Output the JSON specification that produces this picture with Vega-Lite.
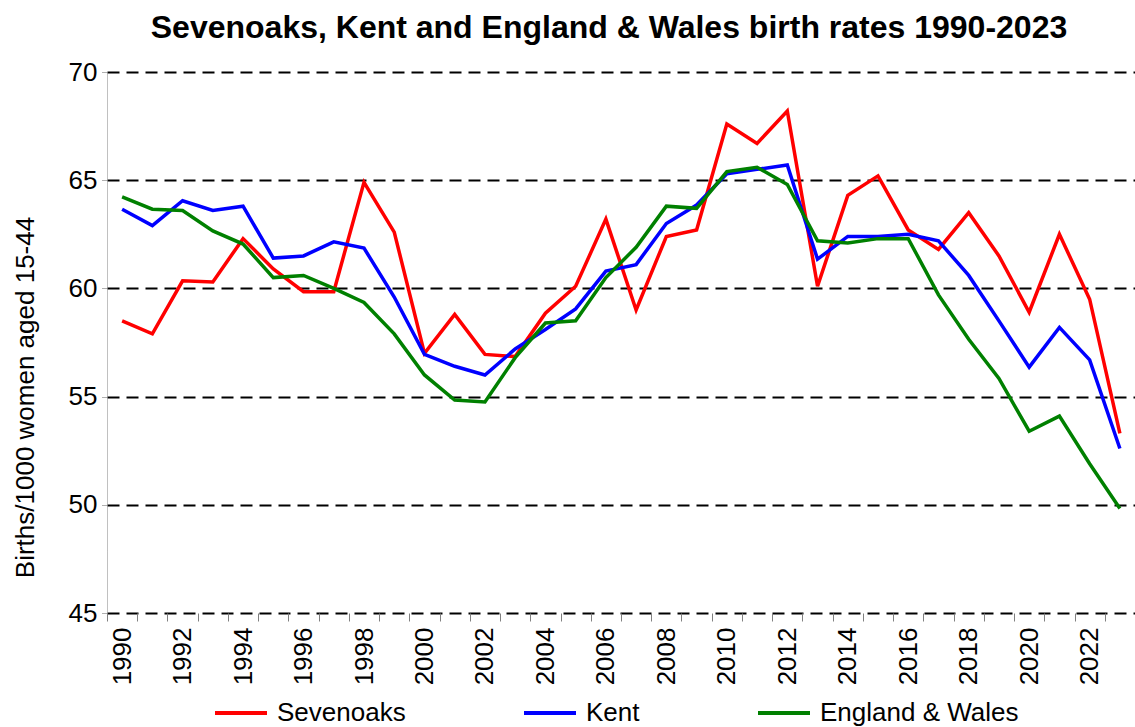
{
  "$schema": "https://vega.github.io/schema/vega-lite/v6.json",
  "width": 1028,
  "height": 541,
  "autosize": {"type": "none"},
  "padding": {"left": 107, "top": 72, "right": 0, "bottom": 114},
  "background": "white",
  "title": {"text": "Sevenoaks, Kent and England & Wales birth rates 1990-2023", "font": "Arial", "fontSize": 32, "fontWeight": "bold", "color": "black", "anchor": "middle", "dx": -12, "offset": 14},
  "datasets": {
    "rates": [
      {"year": 1990, "series": "Sevenoaks", "value": 58.5}, {"year": 1991, "series": "Sevenoaks", "value": 57.9}, {"year": 1992, "series": "Sevenoaks", "value": 60.35}, {"year": 1993, "series": "Sevenoaks", "value": 60.3}, {"year": 1994, "series": "Sevenoaks", "value": 62.3}, {"year": 1995, "series": "Sevenoaks", "value": 60.9}, {"year": 1996, "series": "Sevenoaks", "value": 59.85}, {"year": 1997, "series": "Sevenoaks", "value": 59.85}, {"year": 1998, "series": "Sevenoaks", "value": 64.9}, {"year": 1999, "series": "Sevenoaks", "value": 62.6}, {"year": 2000, "series": "Sevenoaks", "value": 57.0}, {"year": 2001, "series": "Sevenoaks", "value": 58.8}, {"year": 2002, "series": "Sevenoaks", "value": 56.95}, {"year": 2003, "series": "Sevenoaks", "value": 56.85}, {"year": 2004, "series": "Sevenoaks", "value": 58.85}, {"year": 2005, "series": "Sevenoaks", "value": 60.1}, {"year": 2006, "series": "Sevenoaks", "value": 63.2}, {"year": 2007, "series": "Sevenoaks", "value": 59.0}, {"year": 2008, "series": "Sevenoaks", "value": 62.4}, {"year": 2009, "series": "Sevenoaks", "value": 62.7}, {"year": 2010, "series": "Sevenoaks", "value": 67.6}, {"year": 2011, "series": "Sevenoaks", "value": 66.7}, {"year": 2012, "series": "Sevenoaks", "value": 68.2}, {"year": 2013, "series": "Sevenoaks", "value": 60.1}, {"year": 2014, "series": "Sevenoaks", "value": 64.3}, {"year": 2015, "series": "Sevenoaks", "value": 65.2}, {"year": 2016, "series": "Sevenoaks", "value": 62.7}, {"year": 2017, "series": "Sevenoaks", "value": 61.8}, {"year": 2018, "series": "Sevenoaks", "value": 63.5}, {"year": 2019, "series": "Sevenoaks", "value": 61.5}, {"year": 2020, "series": "Sevenoaks", "value": 58.9}, {"year": 2021, "series": "Sevenoaks", "value": 62.5}, {"year": 2022, "series": "Sevenoaks", "value": 59.5}, {"year": 2023, "series": "Sevenoaks", "value": 53.3},
      {"year": 1990, "series": "Kent", "value": 63.66}, {"year": 1991, "series": "Kent", "value": 62.9}, {"year": 1992, "series": "Kent", "value": 64.05}, {"year": 1993, "series": "Kent", "value": 63.6}, {"year": 1994, "series": "Kent", "value": 63.8}, {"year": 1995, "series": "Kent", "value": 61.4}, {"year": 1996, "series": "Kent", "value": 61.5}, {"year": 1997, "series": "Kent", "value": 62.15}, {"year": 1998, "series": "Kent", "value": 61.86}, {"year": 1999, "series": "Kent", "value": 59.6}, {"year": 2000, "series": "Kent", "value": 56.95}, {"year": 2001, "series": "Kent", "value": 56.4}, {"year": 2002, "series": "Kent", "value": 56.0}, {"year": 2003, "series": "Kent", "value": 57.2}, {"year": 2004, "series": "Kent", "value": 58.1}, {"year": 2005, "series": "Kent", "value": 59.05}, {"year": 2006, "series": "Kent", "value": 60.8}, {"year": 2007, "series": "Kent", "value": 61.1}, {"year": 2008, "series": "Kent", "value": 63.0}, {"year": 2009, "series": "Kent", "value": 63.85}, {"year": 2010, "series": "Kent", "value": 65.3}, {"year": 2011, "series": "Kent", "value": 65.5}, {"year": 2012, "series": "Kent", "value": 65.7}, {"year": 2013, "series": "Kent", "value": 61.35}, {"year": 2014, "series": "Kent", "value": 62.4}, {"year": 2015, "series": "Kent", "value": 62.4}, {"year": 2016, "series": "Kent", "value": 62.5}, {"year": 2017, "series": "Kent", "value": 62.2}, {"year": 2018, "series": "Kent", "value": 60.6}, {"year": 2019, "series": "Kent", "value": 58.5}, {"year": 2020, "series": "Kent", "value": 56.36}, {"year": 2021, "series": "Kent", "value": 58.2}, {"year": 2022, "series": "Kent", "value": 56.7}, {"year": 2023, "series": "Kent", "value": 52.6},
      {"year": 1990, "series": "England & Wales", "value": 64.23}, {"year": 1991, "series": "England & Wales", "value": 63.66}, {"year": 1992, "series": "England & Wales", "value": 63.6}, {"year": 1993, "series": "England & Wales", "value": 62.66}, {"year": 1994, "series": "England & Wales", "value": 62.05}, {"year": 1995, "series": "England & Wales", "value": 60.5}, {"year": 1996, "series": "England & Wales", "value": 60.6}, {"year": 1997, "series": "England & Wales", "value": 60.0}, {"year": 1998, "series": "England & Wales", "value": 59.35}, {"year": 1999, "series": "England & Wales", "value": 57.9}, {"year": 2000, "series": "England & Wales", "value": 56.0}, {"year": 2001, "series": "England & Wales", "value": 54.84}, {"year": 2002, "series": "England & Wales", "value": 54.75}, {"year": 2003, "series": "England & Wales", "value": 56.8}, {"year": 2004, "series": "England & Wales", "value": 58.4}, {"year": 2005, "series": "England & Wales", "value": 58.5}, {"year": 2006, "series": "England & Wales", "value": 60.5}, {"year": 2007, "series": "England & Wales", "value": 61.9}, {"year": 2008, "series": "England & Wales", "value": 63.8}, {"year": 2009, "series": "England & Wales", "value": 63.7}, {"year": 2010, "series": "England & Wales", "value": 65.4}, {"year": 2011, "series": "England & Wales", "value": 65.6}, {"year": 2012, "series": "England & Wales", "value": 64.8}, {"year": 2013, "series": "England & Wales", "value": 62.2}, {"year": 2014, "series": "England & Wales", "value": 62.1}, {"year": 2015, "series": "England & Wales", "value": 62.3}, {"year": 2016, "series": "England & Wales", "value": 62.3}, {"year": 2017, "series": "England & Wales", "value": 59.7}, {"year": 2018, "series": "England & Wales", "value": 57.65}, {"year": 2019, "series": "England & Wales", "value": 55.84}, {"year": 2020, "series": "England & Wales", "value": 53.4}, {"year": 2021, "series": "England & Wales", "value": 54.1}, {"year": 2022, "series": "England & Wales", "value": 51.9}, {"year": 2023, "series": "England & Wales", "value": 49.83}
    ]
  },
  "data": {"name": "rates"},
  "mark": {"type": "line", "strokeWidth": 3.5, "clip": false},
  "encoding": {
    "x": {
      "field": "year", "type": "ordinal", "bandPosition": 0.5,
      "scale": {"type": "band", "paddingInner": 0, "paddingOuter": 0},
      "axis": {
        "title": null, "tickBand": "extent", "grid": false, "domain": false,
        "ticks": true, "tickColor": "#808080", "tickWidth": 1, "tickSize": 8,
        "labelAngle": -90, "labelAlign": "right", "labelBaseline": "middle",
        "labelPadding": 6, "labelFont": "Arial", "labelFontSize": 26, "labelColor": "black",
        "labelExpr": "datum.value % 2 == 0 ? datum.label : ''", "labelOverlap": false
      }
    },
    "y": {
      "field": "value", "type": "quantitative",
      "scale": {"domain": [45, 70], "nice": false, "zero": false},
      "axis": {
        "title": "Births/1000 women aged 15-44", "titleFont": "Arial", "titleFontSize": 26, "titleFontWeight": "normal", "titleColor": "black",
        "titleAlign": "center", "titleBaseline": "middle", "titleAngle": -90, "titleX": -82, "titleY": 325,
        "values": [45, 50, 55, 60, 65, 70],
        "grid": true, "gridColor": "black", "gridWidth": 2, "gridDash": [12, 7], "gridOpacity": 1,
        "domain": true, "domainColor": "#808080", "domainWidth": 1, "domainDash": [1, 1],
        "tickColor": "#606060", "tickSize": 6, "tickWidth": 1, "tickDash": [1, 1],
        "labelFont": "Arial", "labelFontSize": 26, "labelColor": "black", "labelPadding": 4
      }
    },
    "color": {
      "field": "series", "type": "nominal",
      "scale": {"domain": ["Sevenoaks", "Kent", "England & Wales"], "range": ["#FF0000", "#0000FF", "#008000"]},
      "legend": {
        "title": null, "orient": "none", "legendX": 106, "legendY": 613, "direction": "horizontal",
        "symbolType": "stroke", "symbolStrokeWidth": 4, "symbolSize": 2704,
        "labelFont": "Arial", "labelFontSize": 26, "labelColor": "black", "labelOffset": 8,
        "columnPadding": 110, "labelLimit": 400
      }
    }
  },
  "config": {"view": {"stroke": null}}
}
